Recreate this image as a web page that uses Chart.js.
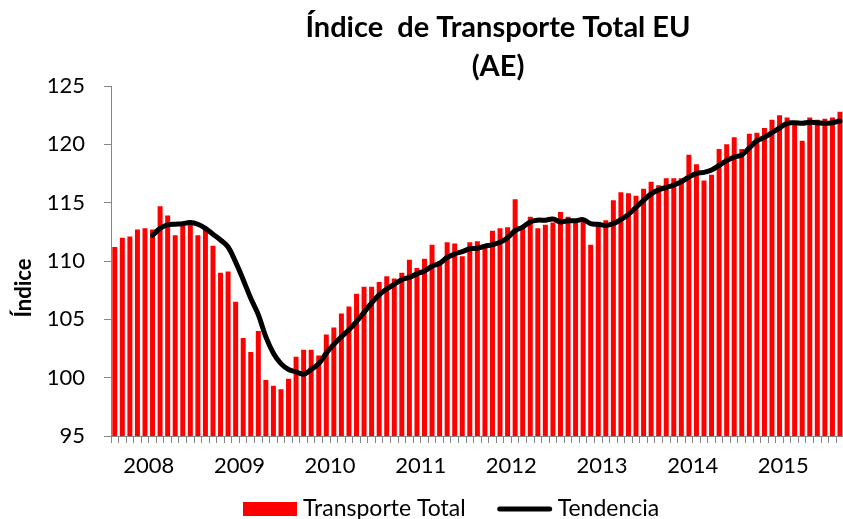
<!DOCTYPE html>
<html>
<head>
<meta charset="utf-8">
<style>
	html, body { margin: 0; padding: 0; background: #fff; overflow: hidden; }
	#wrap { width: 850px; height: 519px; }
</style>
<script src="https://cdn.jsdelivr.net/npm/chart.js@4.4.1/dist/chart.umd.min.js"></script>
</head>
<body>
<div id="wrap"><canvas id="tsiChart" width="850" height="519"></canvas></div>
<script>
	'use strict';

	// monthly series, Aug 2007 .. Aug 2015
	var years = ['2007', '2008', '2009', '2010', '2011', '2012', '2013', '2014', '2015'];
	var months = ['01', '02', '03', '04', '05', '06', '07', '08', '09', '10', '11', '12'];
	var firstMonth = '2007-08';
	var lastMonth = '2015-08';

	var titleLines = ['Índice  de Transporte Total EU', '(AE)'];
	var yTitle = 'Índice';
	var seriesNames = ['Transporte Total', 'Tendencia'];
	var yTicks = [95, 100, 105, 110, 115, 120, 125];

	var totalValues = [
		111.2, 112.0, 112.1, 112.7, 112.8, 112.7, 114.7, 113.9, 112.2, 113.0,
		113.1, 112.2, 112.7, 111.3, 109.0, 109.1, 106.5, 103.4, 102.2, 104.0,
		99.8, 99.3, 99.0, 99.9, 101.8, 102.4, 102.4, 101.9, 103.7, 104.3,
		105.5, 106.1, 107.2, 107.8, 107.8, 108.2, 108.7, 108.5, 109.0, 110.1,
		109.4, 110.2, 111.4, 110.0, 111.6, 111.5, 110.4, 111.6, 111.7, 111.2,
		112.6, 112.8, 112.9, 115.3, 112.9, 113.8, 112.8, 113.1, 113.3, 114.2,
		113.8, 113.3, 113.5, 111.4, 113.1, 113.5, 115.2, 115.9, 115.8, 115.6,
		116.2, 116.8, 116.5, 117.1, 117.1, 117.1, 119.1, 118.3, 116.9, 117.4,
		119.6, 120.0, 120.6, 119.6, 120.9, 121.0, 121.4, 122.1, 122.5, 122.3,
		121.9, 120.3, 122.3, 122.1, 122.2, 122.3, 122.8
	];

	var trendValues = [
		null, null, null, null, null, 112.2, 112.8, 113.1, 113.15, 113.2,
		113.3, 113.15, 112.8, 112.3, 111.8, 111.2, 109.9, 108.4, 106.8, 105.4,
		103.5, 102.1, 101.2, 100.7, 100.5, 100.3, 100.7, 101.2, 102.1, 102.85,
		103.5, 104.1, 104.8, 105.6, 106.4, 107.1, 107.6, 108.0, 108.4, 108.6,
		108.9, 109.15, 109.55, 109.8, 110.3, 110.6, 110.8, 111.05, 111.1, 111.27,
		111.4, 111.6, 112.0, 112.6, 112.9, 113.35, 113.5, 113.5, 113.6, 113.35,
		113.45, 113.45, 113.55, 113.2, 113.15, 113.05, 113.2, 113.55, 114.0, 114.6,
		115.2, 115.75, 116.1, 116.3, 116.5, 116.8, 117.2, 117.5, 117.6, 117.8,
		118.2, 118.6, 118.9, 119.1, 119.7, 120.3, 120.6, 121.0, 121.4, 121.8,
		121.85, 121.8, 121.9, 121.85, 121.8, 121.85, 122.0
	];

	var RED = '#ff0000';
	var AXIS = '#868686';
	var FONT = 'Lato';

	function buildLabels() {
		var out = [];
		years.forEach(function (y) {
			months.forEach(function (m) {
				var key = y + '-' + m;
				if (key >= firstMonth && key <= lastMonth) out.push(key);
			});
		});
		return out;
	}

	var labels = buildLabels();

	var overlay = {
		id: 'overlay',
		afterDraw: function (chart) {
			var ctx = chart.ctx;
			ctx.save();
			ctx.fillStyle = '#000';
			ctx.textBaseline = 'middle';

			// title
			ctx.textAlign = 'center';
			ctx.font = 'bold 29px ' + FONT;
			titleLines.forEach(function (line, i) {
				ctx.fillText(line, 498, 28 + i * 39);
			});

			// rotated y title
			ctx.save();
			ctx.translate(24, 288);
			ctx.rotate(-Math.PI / 2);
			ctx.font = 'bold 22px ' + FONT;
			ctx.fillText(yTitle, 0, 0);
			ctx.restore();

			// legend
			ctx.font = '23px ' + FONT;
			ctx.textAlign = 'left';
			var boxW = 54, gap = 6, itemGap = 32, ly = 509;
			var w1 = ctx.measureText(seriesNames[0]).width;
			var x = 243;
			ctx.fillStyle = RED;
			ctx.fillRect(x, ly - 7, boxW, 14);
			ctx.fillStyle = '#000';
			ctx.fillText(seriesNames[0], x + boxW + gap, ly);
			x += boxW + gap + w1 + itemGap;
			ctx.strokeStyle = '#000';
			ctx.lineWidth = 5;
			ctx.lineCap = 'round';
			ctx.beginPath();
			ctx.moveTo(x + 2, ly);
			ctx.lineTo(x + boxW - 2, ly);
			ctx.stroke();
			ctx.fillText(seriesNames[1], x + boxW + gap, ly);
			ctx.restore();
		}
	};

	Chart.defaults.font.family = FONT;
	Chart.defaults.color = '#000';

	new Chart(document.getElementById('tsiChart'), {
		data: {
			labels: labels,
			datasets: [{
				type: 'line',
				label: seriesNames[1],
				data: trendValues,
				borderColor: '#000',
				borderWidth: 5,
				pointRadius: 0,
				tension: 0.4,
				borderCapStyle: 'round',
				borderJoinStyle: 'round',
				order: 0
			}, {
				type: 'bar',
				label: seriesNames[0],
				data: totalValues,
				backgroundColor: RED,
				barPercentage: 0.66,
				categoryPercentage: 1,
				order: 1
			}]
		},
		options: {
			responsive: false,
			animation: false,
			devicePixelRatio: 1,
			layout: { padding: { top: 86, right: 4, bottom: 0, left: 0 } },
			plugins: {
				legend: { display: false },
				title: { display: false },
				tooltip: { enabled: false }
			},
			scales: {
				x: {
					offset: true,
					grid: { offset: true, drawOnChartArea: false, color: AXIS, tickLength: 7 },
					border: { color: AXIS, width: 1 },
					ticks: {
						autoSkip: false,
						maxRotation: 0,
						padding: 10,
						labelOffset: -3.79,
						font: { size: 22 },
						callback: function (value) {
							var key = this.getLabelForValue(value);
							return key.slice(5) === '01' ? key.slice(0, 4) : '';
						}
					},
					afterFit: function (scale) { scale.height = 83; }
				},
				y: {
					min: yTicks[0],
					max: yTicks[yTicks.length - 1],
					afterBuildTicks: function (scale) {
						scale.ticks = yTicks.map(function (v) { return { value: v }; });
					},
					grid: { drawOnChartArea: false, color: AXIS, tickLength: 7 },
					border: { color: AXIS, width: 1 },
					ticks: { padding: 19, font: { size: 22 } },
					afterFit: function (scale) { scale.width = 111; }
				}
			}
		},
		plugins: [overlay]
	});
</script>
</body>
</html>
